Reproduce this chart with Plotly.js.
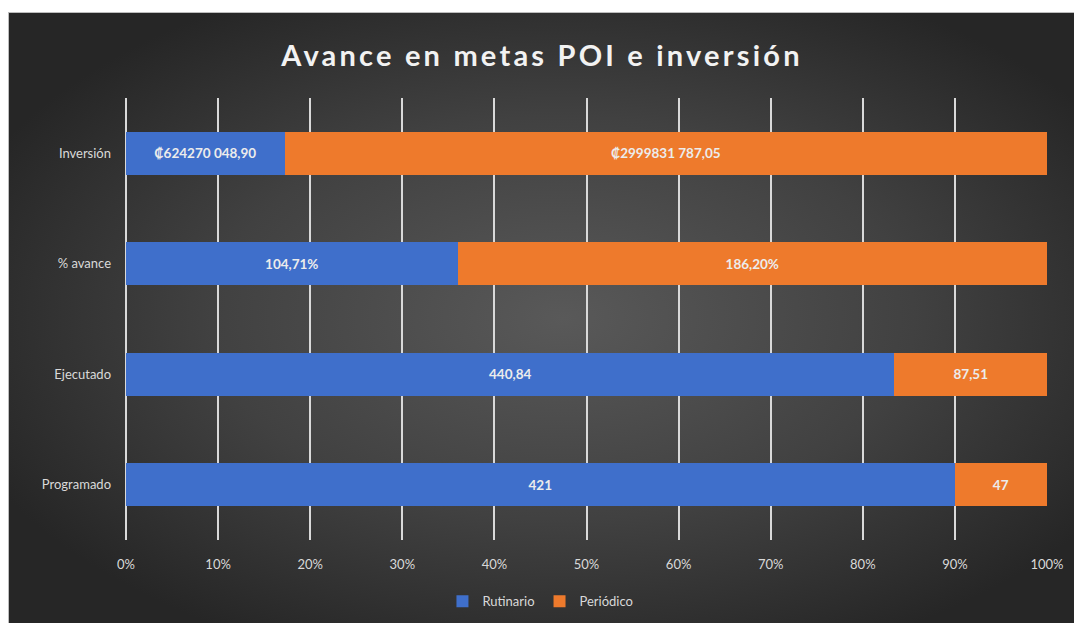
<!DOCTYPE html>
<html>
<head>
<meta charset="utf-8">
<script src="https://cdn.plot.ly/plotly-3.0.1.min.js"></script>
<style>
  html, body { margin: 0; padding: 0; background: #ffffff; overflow: hidden; }
  #chart {
    position: absolute; left: 8px; top: 12px; width: 1066px; height: 611px;
    border-top: 1px solid #bdbdbd; border-left: 1px solid #bdbdbd;
    box-sizing: border-box;
    background: radial-gradient(ellipse 60% 60% at 52% 50%, #595959 0%, #414141 55%, #262626 100%);
  }
  #chart .gtitle { letter-spacing: 3.2px; }
</style>
</head>
<body>
<div id="chart"></div>
<script>
// categorías (de abajo hacia arriba)
const categories = ['Programado', 'Ejecutado', '% avance', 'Inversión'];

// valores por serie
const rutinario = [421, 440.84, 104.71, 624270048.90];
const periodico = [47, 87.51, 186.20, 2999831787.05];

// etiquetas de datos tal como aparecen en el gráfico
const rutinarioLabels = ['421', '440,84', '104,71%', '₡624270 048,90'];
const periodicoLabels = ['47', '87,51', '186,20%', '₡2999831 787,05'];

const xTicks = [0, 10, 20, 30, 40, 50, 60, 70, 80, 90, 100];

const labelFont = { family: 'Lato, "Open Sans", sans-serif', size: 13.5, color: '#ececec', weight: 'bold' };

const traces = [
  {
    type: 'bar', orientation: 'h', name: 'Rutinario',
    y: categories, x: rutinario,
    text: rutinarioLabels, textposition: 'inside', insidetextanchor: 'middle',
    textangle: 0, textfont: labelFont, insidetextfont: labelFont,
    marker: { color: '#3f6fcb', line: { width: 0 } },
    hoverinfo: 'skip'
  },
  {
    type: 'bar', orientation: 'h', name: 'Periódico',
    y: categories, x: periodico,
    text: periodicoLabels, textposition: 'inside', insidetextanchor: 'middle',
    textangle: 0, textfont: labelFont, insidetextfont: labelFont,
    marker: { color: '#ee7a2c', line: { width: 0 } },
    hoverinfo: 'skip'
  }
];

const layout = {
  width: 1066,
  height: 611,
  paper_bgcolor: 'rgba(0,0,0,0)',
  plot_bgcolor: 'rgba(0,0,0,0)',
  margin: { l: 117, r: 28, t: 85, b: 84 },
  barmode: 'stack',
  barnorm: 'percent',
  bargap: 0.61,
  font: { family: 'Lato, "Open Sans", sans-serif', color: '#d9d9d9', size: 13 },
  title: {
    text: 'Avance en metas POI e inversión',
    font: { family: 'Lato, "Open Sans", sans-serif', size: 29, color: '#f2f2f2', weight: 'bold' },
    x: 0.5, xanchor: 'center', y: 0.93, yanchor: 'middle'
  },
  xaxis: {
    range: [0, 100],
    tickvals: xTicks,
    ticktext: xTicks.map(v => v + '%'),
    showgrid: true, gridcolor: '#d9d9d9', gridwidth: 2,
    zeroline: true, zerolinecolor: '#d9d9d9', zerolinewidth: 2,
    showline: false, ticks: '',
    ticklabelstandoff: 15,
    tickfont: { size: 13, color: '#d9d9d9' },
    automargin: false,
    fixedrange: true
  },
  yaxis: {
    type: 'category',
    showgrid: false, zeroline: false, showline: false, ticks: '',
    ticklabelstandoff: 14,
    tickfont: { size: 13, color: '#d9d9d9' },
    automargin: false,
    fixedrange: true
  },
  showlegend: true,
  legend: {
    orientation: 'h', traceorder: 'normal',
    x: 0.45, xanchor: 'center',
    yref: 'container', y: 0.037, yanchor: 'middle',
    font: { size: 13, color: '#d9d9d9' },
    bgcolor: 'rgba(0,0,0,0)'
  }
};

Plotly.newPlot('chart', traces, layout, { staticPlot: true, displayModeBar: false });
</script>
</body>
</html>
